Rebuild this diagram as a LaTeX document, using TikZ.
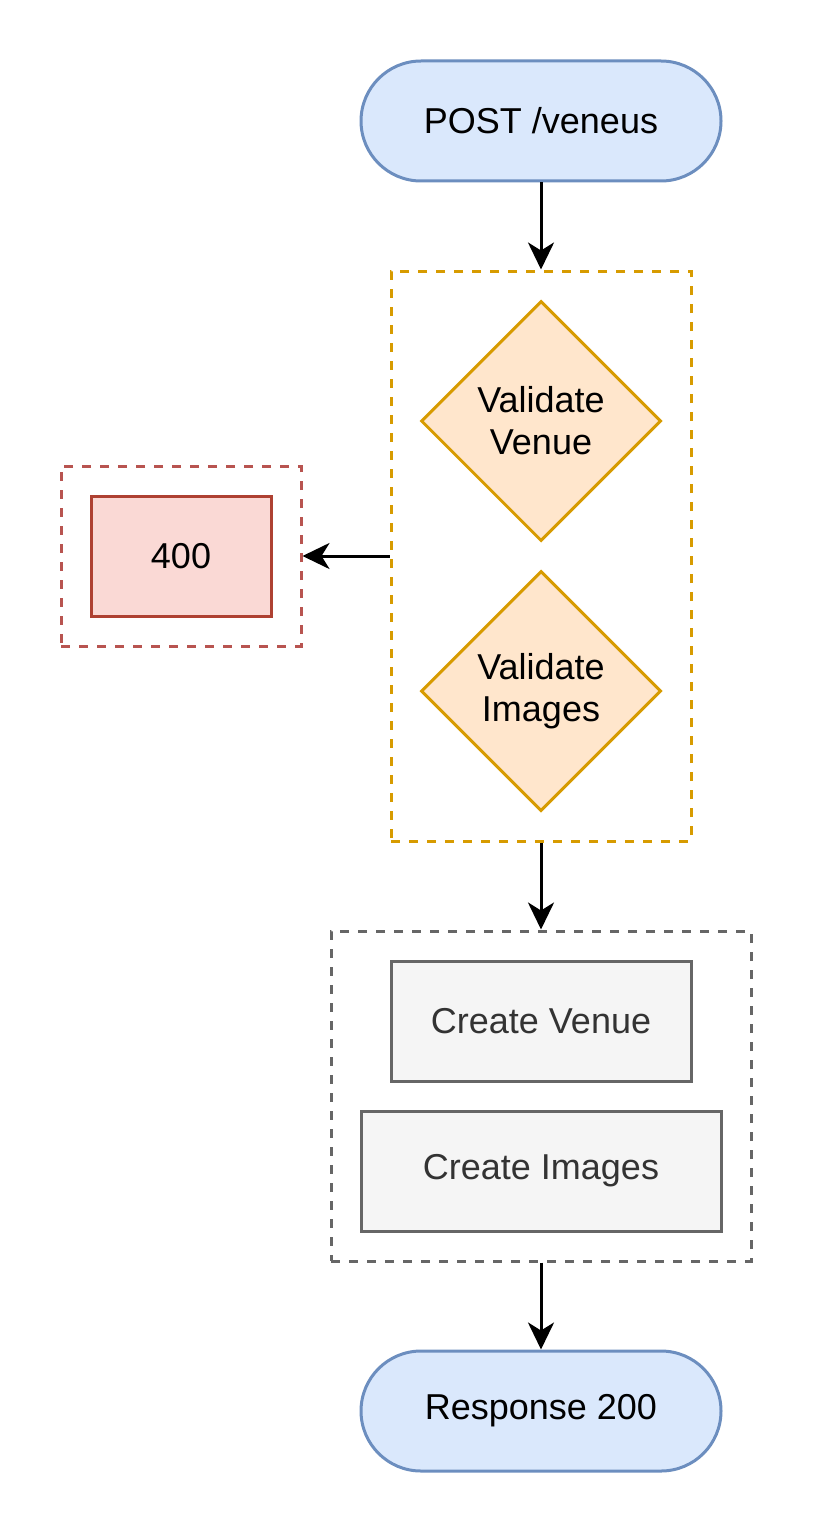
\documentclass[tikz,border=0pt]{standalone}
\usepackage{fontspec}
\setmainfont{Liberation Sans}
\usetikzlibrary{arrows.meta,shapes.geometric}
\definecolor{bluefill}{HTML}{DAE8FC}
\definecolor{bluedraw}{HTML}{6C8EBF}
\definecolor{orfill}{HTML}{FFE6CC}
\definecolor{ordraw}{HTML}{D79B00}
\definecolor{redfill}{HTML}{FAD9D5}
\definecolor{reddraw}{HTML}{AE4132}
\definecolor{reddash}{HTML}{B85450}
\definecolor{grayfill}{HTML}{F5F5F5}
\definecolor{graydraw}{HTML}{666666}
\definecolor{graytext}{HTML}{333333}
\tikzset{
  base/.style={line width=3pt, font=\fontsize{36}{42}\selectfont, align=center, inner sep=0pt},
  term/.style={base, rounded corners=60pt, draw=bluedraw, fill=bluefill, minimum width=360pt, minimum height=120pt},
  dia/.style={base, diamond, draw=ordraw, fill=orfill, minimum width=240pt, minimum height=240pt},
  errbox/.style={base, draw=reddraw, fill=redfill, minimum width=180pt, minimum height=120pt},
  proc/.style={base, draw=graydraw, fill=grayfill, text=graytext, minimum height=120pt},
  group/.style={line width=3pt, dash pattern=on 9pt off 9pt, inner sep=0pt},
  arr/.style={line width=3pt, -{Stealth[length=27pt, width=26pt, inset=8pt]}},
}
\begin{document}
\begin{tikzpicture}[x=1pt, y=-1pt]
\useasboundingbox (0,0) rectangle (813,1533);
\node[term] (post) at (541,121) {POST /veneus};
\node[group, draw=ordraw, minimum width=300pt, minimum height=570pt] (valgrp) at (541,556) {};
\node[dia] (vv) at (541,421) {Validate\\Venue};
\node[dia] (vi) at (541,691) {Validate\\Images};
\node[group, draw=reddash, minimum width=240pt, minimum height=180pt] (errgrp) at (181,556) {};
\node[errbox] (err) at (181,556) {400};
\node[group, draw=graydraw, minimum width=420pt, minimum height=330pt] (crgrp) at (541,1096) {};
\node[proc, minimum width=300pt] (cv) at (541,1021) {Create Venue};
\node[proc, minimum width=360pt] (ci) at (541,1171) {Create Images};
\node[term] (resp) at (541,1411) {Response 200};
\draw[arr] (post.south) -- (valgrp.north);
\draw[arr] (valgrp.west) -- (errgrp.east);
\draw[arr] (valgrp.south) -- (crgrp.north);
\draw[arr] (crgrp.south) -- (resp.north);
\end{tikzpicture}
\end{document}
